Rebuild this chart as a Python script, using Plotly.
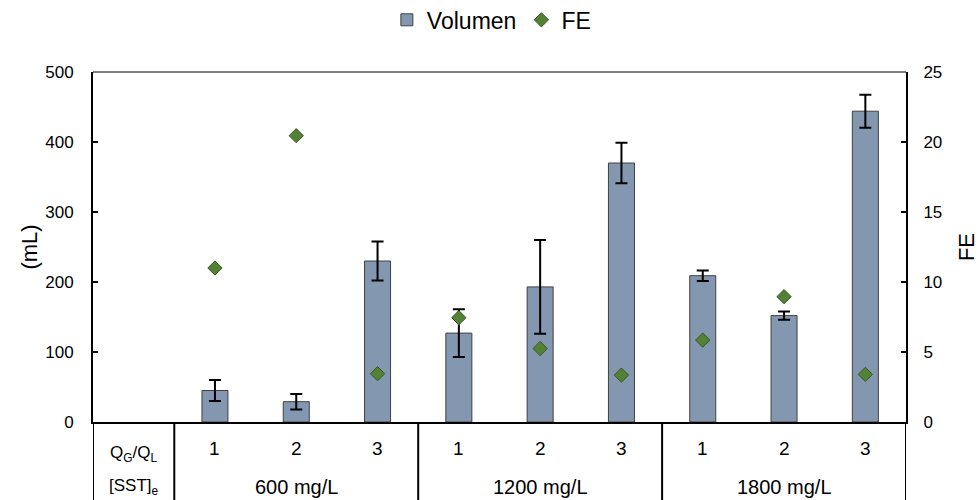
import plotly.graph_objects as go

# ---- data ----
qg_ql = ["1", "2", "3", "1", "2", "3", "1", "2", "3"]
sst_groups = ["600 mg/L", "1200 mg/L", "1800 mg/L"]
volumen = [45, 29, 230, 127, 193, 370, 209, 152, 444]
volumen_err = [15, 11, 28, 34, 67, 29, 7.5, 6, 23.5]
fe = [11.0, 20.45, 3.45, 7.45, 5.25, 3.35, 5.85, 8.95, 3.4]
y_ticks = [0, 100, 200, 300, 400, 500]
y2_ticks = [0, 5, 10, 15, 20, 25]

FONT = "Liberation Sans, Arial, sans-serif"
xpos = list(range(1, len(volumen) + 1))

fig = go.Figure()
fig.add_trace(go.Bar(
    x=xpos, y=volumen, name="Volumen", width=0.32,
    marker=dict(color="#8497B0", line=dict(color="#404040", width=1)),
    error_y=dict(type="data", array=volumen_err, visible=True,
                 color="black", thickness=2, width=6),
))
fig.add_trace(go.Scatter(
    x=xpos, y=fe, name="FE", mode="markers", yaxis="y2",
    marker=dict(symbol="diamond", size=11, color="#548235",
                line=dict(color="#385723", width=1)),
))

shapes = []
n_per = 3
bounds = [-0.5, 0.5] + [0.5 + n_per * (i + 1) for i in range(len(sst_groups))]
for b in bounds:
    shapes.append(dict(type="line", xref="x", yref="paper", x0=b, x1=b,
                       y0=0, y1=-0.3, line=dict(color="black", width=2)))
shapes.append(dict(type="line", xref="paper", yref="paper", x0=0, x1=1,
                   y0=1, y1=1, line=dict(color="black", width=1)))

annotations = []
for i, lab in enumerate(qg_ql):
    annotations.append(dict(x=xpos[i], y=-0.077, xref="x", yref="paper",
                            text=lab, showarrow=False, yanchor="middle",
                            font=dict(family=FONT, size=19, color="black")))
for g, lab in enumerate(sst_groups):
    annotations.append(dict(x=2 + n_per * g, y=-0.186, xref="x", yref="paper",
                            text=lab, showarrow=False, yanchor="middle",
                            font=dict(family=FONT, size=20, color="black")))
annotations.append(dict(x=0, y=-0.09, xref="x", yref="paper",
                        text="Q<sub>G</sub>/Q<sub>L</sub>", showarrow=False,
                        yanchor="middle",
                        font=dict(family=FONT, size=17, color="black")))
annotations.append(dict(x=0, y=-0.186, xref="x", yref="paper",
                        text="[SST]<sub>e</sub>", showarrow=False,
                        yanchor="middle",
                        font=dict(family=FONT, size=17, color="black")))

fig.update_layout(
    width=979, height=500,
    margin=dict(l=93, r=73, t=72, b=78, autoexpand=False),
    paper_bgcolor="white", plot_bgcolor="white",
    font=dict(family=FONT, color="black"),
    showlegend=True,
    legend=dict(orientation="h", x=0.49, xanchor="center", y=1.149,
                yanchor="middle", font=dict(family=FONT, size=23),
                itemwidth=30, tracegroupgap=0),
    xaxis=dict(range=[-0.5, 9.5], showticklabels=False, ticks="",
               showgrid=False, zeroline=False, showline=True,
               linecolor="black", linewidth=2),
    yaxis=dict(range=[0, 500], tickvals=y_ticks, ticks="inside", ticklen=5,
               tickwidth=2, tickcolor="black", showgrid=False, zeroline=False,
               showline=True, linecolor="black", linewidth=2,
               tickfont=dict(family=FONT, size=17), ticklabelstandoff=14,
               title=dict(text="(mL)", font=dict(family=FONT, size=22),
                          standoff=2)),
    yaxis2=dict(range=[0, 25], tickvals=y2_ticks, overlaying="y", side="right",
                ticks="inside", ticklen=5, tickwidth=2, tickcolor="black",
                showgrid=False, zeroline=False, showline=True,
                linecolor="black", linewidth=2,
                tickfont=dict(family=FONT, size=17), ticklabelstandoff=12,
                title=dict(text="FE", font=dict(family=FONT, size=22),
                           standoff=19)),
    shapes=shapes, annotations=annotations,
)

fig.write_html("out.html")
